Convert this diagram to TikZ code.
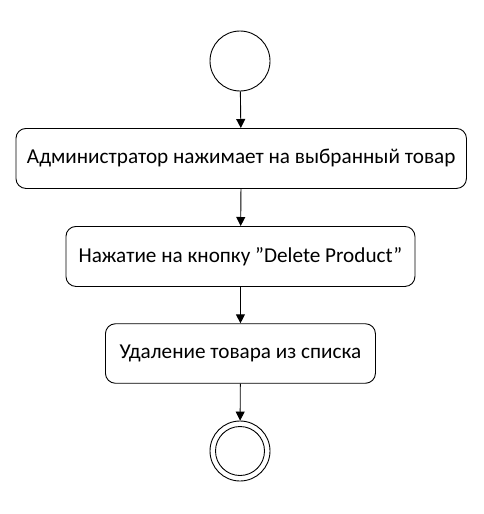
\documentclass[tikz,border=0pt]{standalone}
\usepackage{fontspec}
\setmainfont{Carlito}
\usetikzlibrary{arrows.meta}
\begin{document}
\begin{tikzpicture}[x=1pt,y=-1pt,
  act/.style={draw,line width=0.9pt,rounded corners=10pt,anchor=north west,inner sep=0pt,
    font=\fontsize{21.2}{25}\selectfont,align=center},
  flow/.style={draw,line width=0.9pt,-{Triangle[length=9pt,width=9pt]}},
  startc/.style={draw,line width=0.9pt,circle,minimum size=60pt,inner sep=0pt},
]
\useasboundingbox (0,0) rectangle (483,514);
\node[startc] (s) at (240,61) {};
\node[act,minimum width=450.5pt,minimum height=60pt] (a1) at (15.5,128) {Администратор нажимает на выбранный товар};
\node[act,minimum width=349pt,minimum height=60pt] (a2) at (65.5,226) {Нажатие на кнопку {\char"0022}Delete Product{\char"0022}};
\node[act,minimum width=270pt,minimum height=59.5pt] (a3) at (105,323.3) {Удаление товара из списка};
\node[startc] (e) at (240,451) {};
\node[draw,line width=0.9pt,circle,minimum size=49pt,inner sep=0pt] (ei) at (240,451) {};
\draw[flow] (s) -- (a1);
\draw[flow] (a1) -- (a2);
\draw[flow] (a2) -- (a3);
\draw[flow] (a3) -- (e);
\end{tikzpicture}
\end{document}
